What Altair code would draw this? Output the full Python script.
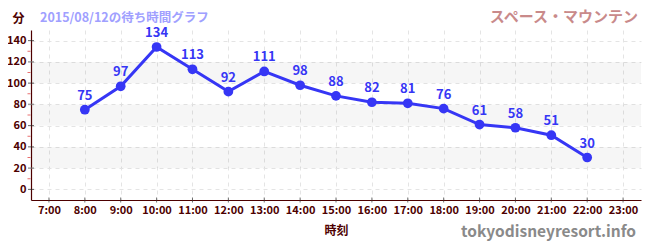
import altair as alt
import pandas as pd

# ---- data ----
hours = [8, 9, 10, 11, 12, 13, 14, 15, 16, 17, 18, 19, 20, 21, 22]
waits = [75, 97, 134, 113, 92, 111, 98, 88, 82, 81, 76, 61, 58, 51, 30]
x_ticks = list(range(7, 24))
y_ticks = [0, 20, 40, 60, 80, 100, 120, 140]
y_ticks_gray = [20, 80, 120]
y_minor = [10, 30, 50, 70, 90, 110, 130]
band_lo = [20, 60, 100]
band_hi = [40, 80, 120]
title_text = "スペース・マウンテン"
subtitle_text = "2015/08/12の待ち時間グラフ"
y_title = "分"
x_title = "時刻"
watermark = "tokyodisneyresort.info"

FONT = "Noto Sans CJK JP"
MAROON = "#4d0000"
BLUE = "#3636f5"

X_DOM = [6.5, 23.5]
Y_DOM = [-10, 150]
xs = alt.Scale(domain=X_DOM, nice=False, zero=False)
ys = alt.Scale(domain=Y_DOM, nice=False, zero=False)

df = pd.DataFrame({"h": hours, "w": waits})
bands = pd.DataFrame({"lo": band_lo, "hi": band_hi,
                      "x0": [X_DOM[0]] * len(band_lo), "x1": [X_DOM[1]] * len(band_lo)})

x_axis = alt.Axis(values=x_ticks, tickCount=40, labelExpr="datum.value + ':00'", grid=True,
                  gridDash=[4, 4], gridColor="#e4e4e4", ticks=False,
                  labelOverlap=False, labelFlush=False,
                  domainColor=MAROON, domainWidth=1.2, labelColor=MAROON,
                  labelFont=FONT, labelFontSize=11, labelFontWeight="bold",
                  labelPadding=4, title=x_title, titleFont=FONT, titleFontSize=12,
                  titleFontWeight="bold", titleColor=MAROON, titlePadding=10)
y_axis = alt.Axis(values=y_ticks, tickCount=40, grid=True, gridDash=[4, 4], gridColor="#e4e4e4",
                  ticks=False, labelOverlap=False, labelFlush=False,
                  domainColor=MAROON, domainWidth=1.2, labelColor=MAROON,
                  labelFont=FONT, labelFontSize=11, labelFontWeight="bold",
                  labelPadding=5, title=y_title, titleAngle=0, titleX=-13, titleY=-12,
                  titleAlign="center", titleBaseline="middle", titleFont=FONT,
                  titleFontSize=12, titleFontWeight="bold", titleColor=MAROON)


def X(f):
    return alt.X(f, scale=xs, axis=x_axis)


def Y(f):
    return alt.Y(f, scale=ys, axis=y_axis)


band_layer = alt.Chart(bands).mark_rect(color="#000000", opacity=0.035).encode(
    x=X("x0:Q"), x2="x1:Q", y=Y("lo:Q"), y2="hi:Q")

xt = alt.Chart(pd.DataFrame({"h": x_ticks})).mark_tick(
    orient="vertical", size=5, thickness=1, color="#333333").encode(
    x=X("h:Q"), y=alt.datum(Y_DOM[0]))

yt = alt.Chart(pd.DataFrame({"v": [v for v in y_ticks if v not in y_ticks_gray]})).mark_tick(
    orient="horizontal", size=6, thickness=1, color="#222222").encode(
    y=Y("v:Q"), x=alt.datum(X_DOM[0]))
ytg = alt.Chart(pd.DataFrame({"v": y_ticks_gray})).mark_tick(
    orient="horizontal", size=6, thickness=1.5, color="#777777").encode(
    y=Y("v:Q"), x=alt.datum(X_DOM[0]))
ym = alt.Chart(pd.DataFrame({"v": y_minor})).mark_tick(
    orient="horizontal", size=3, thickness=1, color="#e03030", xOffset=-2).encode(
    y=Y("v:Q"), x=alt.datum(X_DOM[0]))

base = alt.Chart(df).encode(x=X("h:Q"), y=Y("w:Q"))
line = base.mark_line(color=BLUE, strokeWidth=3)
pts = base.mark_circle(color=BLUE, size=95, opacity=1)
lbl = base.mark_text(color=BLUE, dy=-14, font=FONT, fontSize=13, fontWeight="bold",
                     baseline="middle").encode(text="w:Q")


def txt(s, x, y, color, size, align):
    return alt.Chart(pd.DataFrame({"t": [s]})).mark_text(
        color=color, font=FONT, fontSize=size, fontWeight="bold", align=align,
        baseline="middle").encode(text="t:N", x=alt.value(x), y=alt.value(y))


t1 = txt(title_text, 607, -13, "#c98a8a", 15, "right")
t2 = txt(subtitle_text, 9, -12, "#a0a0ff", 12.5, "left")
t3 = txt(watermark, 605, 202, "#8a8a8a", 15.5, "right")

chart = alt.layer(band_layer, line, pts, lbl, xt, yt, ytg, ym, t1, t2, t3).properties(
    width=610, height=170,
    autosize=alt.AutoSizeParams(type="none"),
    padding={"left": 23, "top": 22, "right": 1, "bottom": 42},
).configure_view(stroke=None).configure_axis(labelOverlap=False)

chart.save("out.html", embed_options={"renderer": "svg", "actions": False})
